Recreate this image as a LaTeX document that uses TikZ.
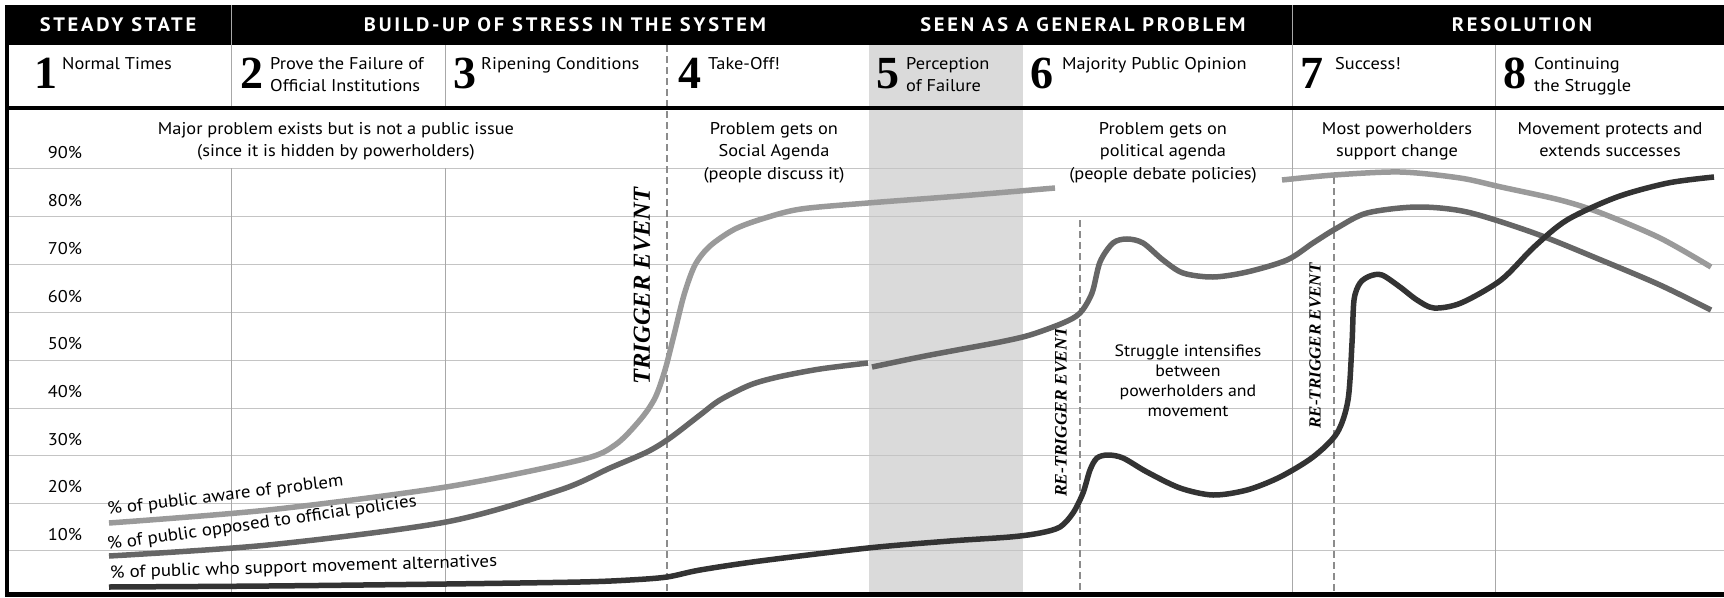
\documentclass[tikz,border=0pt]{standalone}
\usepackage{fontspec}
\setmainfont{PT Sans}[FakeStretch=1.08]
\newfontfamily\numfont{Liberation Serif}
\newfontfamily\hdfont{PT Sans}[LetterSpace=14, FakeStretch=1.05]
\newfontfamily\evfont{Liberation Serif}
\definecolor{lightcurve}{HTML}{9A9A9A}
\definecolor{midcurve}{HTML}{666666}
\definecolor{darkcurve}{HTML}{333333}
\definecolor{gridgray}{HTML}{C4C4C4}
\definecolor{colgray}{HTML}{A8A8A8}
\definecolor{shadegray}{HTML}{DADADA}
\definecolor{dashgray}{HTML}{8C8C8C}
\tikzset{
  hdr/.style={text=white, font=\hdfont\bfseries\fontsize{19.5}{21}\selectfont, inner sep=0},
  num/.style={font=\numfont\bfseries\fontsize{46}{46}\selectfont, inner sep=0, anchor=base west},
  lab/.style={font=\fontsize{17}{22.5}\selectfont, inner sep=0, anchor=north west, align=left},
  note/.style={font=\fontsize{17}{22.5}\selectfont, inner sep=0, anchor=north, align=center},
  pct/.style={font=\fontsize{17}{20}\selectfont, inner sep=0},
  event/.style={font=\evfont\bfseries\itshape\fontsize{24.5}{25}\selectfont, rotate=90, inner sep=0},
  reevent/.style={font=\evfont\bfseries\itshape\fontsize{17.5}{18}\selectfont, rotate=90, inner sep=0},
  curvelab/.style={font=\fontsize{17.5}{18}\selectfont, inner sep=0, anchor=base west},
  gridln/.style={gridgray, line width=1},
  colln/.style={colgray, line width=1},
  evln/.style={dashgray, line width=1.6, dash pattern=on 7 off 4},
  curve/.style={line width=5.5},
}
\begin{document}
\begin{tikzpicture}[x=1pt,y=-1pt]
\useasboundingbox (0,0) rectangle (1724,597);
% shaded column 5
\fill[shadegray] (869,45) rectangle (1023,592);
% black header band
\fill[black] (5,5) rectangle (1724,45);
% header separators and row-2 column lines
\draw[colln] (231,5) -- (231,106);
\draw[colln] (1292,5) -- (1292,106);
\draw[colln] (445,45) -- (445,106);
\draw[colln] (1495,45) -- (1495,106);
% grid lines
\foreach \yy in {168,216,264,312,360,408,455,503,550}
  \draw[gridln] (9,\yy) -- (1724,\yy);
% vertical column lines in graph
\draw[colln] (231,168) -- (231,592);
\draw[colln] (445,168) -- (445,592);
\draw[colln] (1292,110) -- (1292,592);
\draw[colln] (1495,110) -- (1495,592);
% event lines
\draw[evln] (667,45) -- (667,592);
\draw[evln] (1080,220) -- (1080,592);
\draw[evln] (1334,177) -- (1334,592);
% frame
\draw[line width=4] (5,108) -- (1724,108);
\draw[line width=4] (7,5) -- (7,596);
\draw[line width=5] (5,594) -- (1724,594);

% header texts
\node[hdr] (hsteady) at (118,25) {STEADY STATE};
\node[hdr] (hbuild) at (565,25) {BUILD-UP OF STRESS IN THE SYSTEM};
\node[hdr] (hseen) at (1083,25) {SEEN AS A GENERAL PROBLEM};
\node[hdr] (hres) at (1522,25) {RESOLUTION};

% stage numbers and names
\node[num] (n1) at (34,88) {1};
\node[lab] (t1) at (62,57) {Normal Times};
\node[num] (n2) at (240,88) {2};
\node[lab] (t2) at (270,57) {Prove the Failure of\\Official Institutions};
\node[num] (n3) at (453,88) {3};
\node[lab] (t3) at (481,57) {Ripening Conditions};
\node[num] (n4) at (678,88) {4};
\node[lab] (t4) at (708,57) {Take-Off!};
\node[num] (n5) at (876,88) {5};
\node[lab] (t5) at (906,57) {Perception\\of Failure};
\node[num] (n6) at (1030,88) {6};
\node[lab] (t6) at (1062,57) {Majority Public Opinion};
\node[num] (n7) at (1300,88) {7};
\node[lab] (t7) at (1335,57) {Success!};
\node[num] (n8) at (1503,88) {8};
\node[lab] (t8) at (1534,57) {Continuing\\the Struggle};

% percent labels
\foreach \p/\yy in {90/153,80/201,70/249,60/297,50/344,40/392,30/440,20/487,10/535}
  \node[pct] (pct\p) at (65,\yy) {\p\%};

% notes in graph
\node[note] (m1) at (336,122) {Major problem exists but is not a public issue\\(since it is hidden by powerholders)};
\node[note] (m2) at (774,122) {Problem gets on\\Social Agenda\\(people discuss it)};
\node[note] (m3) at (1163,122) {Problem gets on\\political agenda\\(people debate policies)};
\node[note] (m4) at (1397,122) {Most powerholders\\support change};
\node[note] (m5) at (1610,122) {Movement protects and\\extends successes};
\node[note, font=\fontsize{16.5}{20}\selectfont] (m6) at (1188,345) {Struggle intensifies\\between\\powerholders and\\movement};

% event labels
\node[event] (trig) at (642,286) {TRIGGER EVENT};
\node[reevent] (retrig1) at (1061,412) {RE-TRIGGER EVENT};
\node[reevent, font=\evfont\bfseries\itshape\fontsize{17}{18}\selectfont] (retrig2) at (1315,346) {RE-TRIGGER EVENT};

% curves
\draw[curve, lightcurve] plot[smooth, tension=0.5] coordinates {(109,523) (268,510) (446,487) (580,460) (615,445) (640,420) (655,398) (665,370) (674,335) (684,295) (695,265) (710,246) (735,229) (765,218) (801,209) (868,203) (960,196) (1055,188)};
\draw[curve, lightcurve] plot[smooth, tension=0.5] coordinates {(1282,180) (1334,175) (1400,172) (1460,178) (1501,187) (1560,200) (1601,213) (1660,238) (1711,267)};
\draw[curve, midcurve] plot[smooth, tension=0.5] coordinates {(109,556) (268,545) (446,522) (560,490) (610,468) (647,452) (670,438) (700,415) (720,400) (750,385) (778,377) (820,369) (868,363)};
\draw[curve, midcurve] plot[smooth, tension=0.5] coordinates {(872,367) (920,357) (957,350) (1000,342) (1030,335) (1063,323) (1080,313) (1092,293) (1100,262) (1113,243) (1127,239) (1143,243) (1163,260) (1183,273) (1213,277) (1247,272) (1287,260) (1313,243) (1337,228) (1367,213) (1417,207) (1467,212) (1534,233) (1601,260) (1660,285) (1711,310)};
\draw[curve, darkcurve] plot[smooth, tension=0.5] coordinates {(109,587) (268,586) (446,584) (580,582) (630,580) (667,577) (700,570) (760,561) (868,548) (950,541) (1010,537) (1040,533) (1060,527) (1073,513) (1083,493) (1090,470) (1097,458) (1108,455) (1123,458) (1147,472) (1180,488) (1213,495) (1247,490) (1280,477) (1313,457) (1337,433) (1348,400) (1352,343) (1354,300) (1360,283) (1370,276) (1382,275) (1400,287) (1417,300) (1434,308) (1461,303) (1501,280) (1534,247) (1567,220) (1617,197) (1668,183) (1714,177)};

% curve labels
\node[curvelab, rotate=7] (la) at (108,515) {\% of public aware of problem};
\node[curvelab, rotate=8] (lo) at (108,550) {\% of public opposed to official policies};
\node[curvelab, rotate=1.7] (ls) at (110,578) {\% of public who support movement alternatives};
\end{tikzpicture}
\end{document}
